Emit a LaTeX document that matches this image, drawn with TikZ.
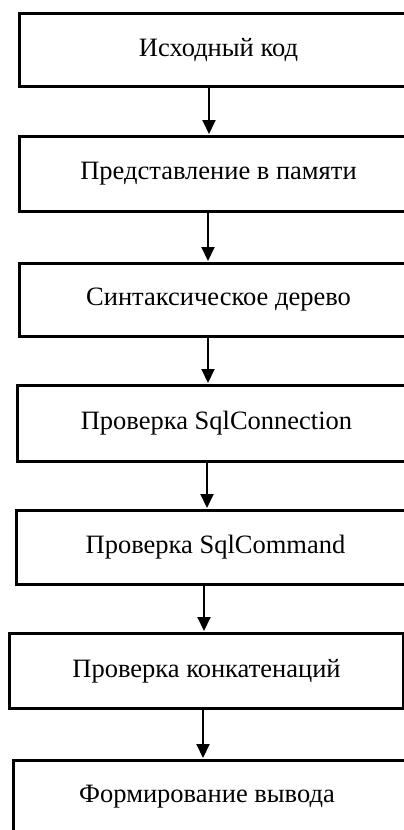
\documentclass[tikz,border=0pt]{standalone}
\usepackage{fontspec}
\setmainfont{Liberation Serif}
\usetikzlibrary{arrows.meta}
\tikzset{
  txt/.style={font=\fontsize{26.5}{30}\selectfont},
  stepbox/.style={draw, line width=3pt, anchor=north west, inner sep=0pt, txt},
  arr/.style={line width=2pt, -{Triangle[length=14pt,width=13pt]}, shorten >=1pt}
}
\begin{document}
\begin{tikzpicture}[x=1pt,y=-1pt]
\path[use as bounding box] (0,0) rectangle (404,830);
\clip (0,0) rectangle (404,830);
\node[stepbox, minimum width=398pt, minimum height=73pt] (b1) at (18,12) {Исходный код};
\node[stepbox, minimum width=398pt, minimum height=75pt] (b2) at (18,135) {Представление в памяти};
\node[stepbox, minimum width=398pt, minimum height=73pt] (b3) at (18,262) {Синтаксическое дерево};
\node[stepbox, minimum width=398pt, minimum height=76pt] (b4) at (16,384) {Проверка SqlConnection};
\node[stepbox, minimum width=398pt, minimum height=74pt] (b5) at (15,509) {Проверка SqlCommand};
\node[stepbox, minimum width=394pt, minimum height=75pt] (b6) at (8,632) {Проверка конкатенаций};
\node[stepbox, minimum width=398pt, minimum height=90pt] (b7) at (12,759) {};
\node[txt] (t7) at (207,797) {Формирование вывода};
\draw[arr] (b1.south -| 209,0) -- (b2.north -| 209,0);
\draw[arr] (b2.south -| 208,0) -- (b3.north -| 208,0);
\draw[arr] (b3.south -| 208,0) -- (b4.north -| 208,0);
\draw[arr] (b4.south -| 207,0) -- (b5.north -| 207,0);
\draw[arr] (b5.south -| 204,0) -- (b6.north -| 204,0);
\draw[arr] (b6.south -| 203,0) -- (b7.north -| 203,0);
\end{tikzpicture}
\end{document}
